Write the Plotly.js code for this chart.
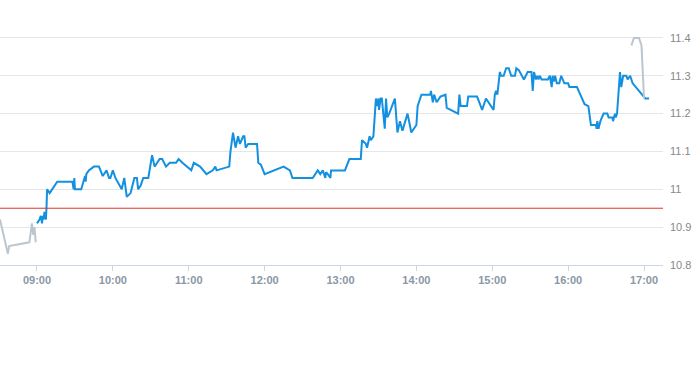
<!DOCTYPE html>
<html>
<head>
<meta charset="utf-8">
<script src="https://cdn.plot.ly/plotly-3.0.1.min.js"></script>
<style>html,body{margin:0;padding:0;background:#fff;}#chart{width:693px;height:365px;}</style>
</head>
<body>
<div id="chart"></div>
<script>
const DAY = '2024-03-01 ';
const preTimes = ['08:30:45','08:37','08:38','08:45','08:54','08:56','08:57','08:58','08:59'];
const prePrices = [10.92,10.83,10.85,10.855,10.86,10.91,10.88,10.90,10.86];

const mainTimes = ['09:00','09:02','09:03','09:04','09:04:30','09:05','09:06','09:07','09:07:30','09:08','09:10','09:16','09:28','09:29','09:29:30','09:30','09:35','09:37','09:38','09:38:30','09:39','09:41','09:45','09:49','09:52','09:55','09:57','09:58','10:00','10:02','10:07','10:09','10:11','10:14','10:17','10:19','10:20','10:22','10:24','10:28','10:31','10:33','10:37','10:39','10:42','10:45','10:50','10:52','10:55','11:02','11:04','11:09','11:14','11:19','11:21','11:22','11:32','11:33','11:35','11:37','11:39','11:40:30','11:43','11:44','11:45','11:47','11:54','11:55','11:57','12:00','12:15','12:20','12:22','12:38','12:42','12:44','12:46','12:48','12:48:30','12:50','12:52','12:52:30','13:03:30','13:07','13:16','13:17','13:20','13:21','13:23','13:24','13:26','13:27','13:28','13:29','13:30','13:30:30','13:31:40','13:32:40','13:34','13:35','13:36','13:37','13:38:30','13:43','13:45','13:47','13:49','13:53','13:56','14:00','14:01','14:04','14:11','14:11:30','14:13','14:14','14:16','14:19','14:23','14:24','14:33','14:34','14:35','14:40','14:41','14:48','14:52','14:55','15:01','15:02','15:03','15:04','15:06','15:07','15:09','15:11','15:13','15:15','15:18','15:19','15:21','15:25','15:28','15:31','15:32','15:33','15:34:30','15:35:30','15:36:30','15:37:30','15:39','15:40','15:44','15:45:30','15:47','15:47:40','15:48:40','15:49:40','15:51','15:53','15:54:30','15:57','16:00','16:01','16:07','16:09','16:13','16:16','16:18','16:22','16:22:30','16:23','16:24','16:25:30','16:28','16:31','16:32','16:35','16:35:30','16:37','16:37:40','16:38:40','16:40','16:41','16:42','16:43:30','16:46','16:47','16:49','16:51','17:01','17:04'];
const mainPrices = [10.91,10.92,10.93,10.91,10.93,10.92,10.94,10.92,10.95,11.00,10.99,11.02,11.02,11.00,11.03,11.00,11.00,11.02,11.035,11.02,11.04,11.05,11.06,11.06,11.035,11.05,11.03,11.03,11.05,11.03,11.00,11.03,10.98,10.99,11.03,11.03,11.00,11.01,11.03,11.03,11.09,11.06,11.08,11.08,11.06,11.07,11.07,11.08,11.07,11.05,11.07,11.06,11.04,11.05,11.06,11.05,11.06,11.10,11.15,11.11,11.14,11.12,11.14,11.14,11.11,11.12,11.12,11.07,11.065,11.04,11.06,11.05,11.03,11.03,11.05,11.04,11.05,11.03,11.045,11.04,11.03,11.05,11.05,11.08,11.08,11.13,11.12,11.11,11.14,11.13,11.14,11.19,11.24,11.22,11.24,11.21,11.24,11.24,11.18,11.16,11.24,11.19,11.20,11.24,11.15,11.18,11.155,11.20,11.15,11.17,11.22,11.25,11.25,11.26,11.23,11.25,11.23,11.245,11.25,11.215,11.20,11.25,11.22,11.22,11.245,11.245,11.21,11.24,11.21,11.25,11.26,11.25,11.31,11.30,11.30,11.32,11.32,11.30,11.30,11.32,11.315,11.29,11.31,11.31,11.26,11.31,11.29,11.30,11.29,11.30,11.29,11.29,11.29,11.30,11.27,11.30,11.285,11.30,11.28,11.28,11.30,11.28,11.28,11.27,11.27,11.255,11.225,11.22,11.17,11.17,11.16,11.18,11.16,11.18,11.20,11.20,11.19,11.19,11.18,11.20,11.19,11.20,11.27,11.31,11.27,11.30,11.30,11.29,11.30,11.28,11.24,11.24];

const postTimes = ['16:50','16:52','16:56','16:58','17:00'];
const postPrices = [11.38,11.40,11.40,11.38,11.24];

const prevClose = [10.95];
const xRange = ['08:30:45','17:15'];
const yTicks = [10.8,10.9,11,11.1,11.2,11.3,11.4];
const xTickTimes = ['09:00','10:00','11:00','12:00','13:00','14:00','15:00','16:00','17:00'];
const xTickLabels = ['09:00','10:00','11:00','12:00','13:00','14:00','15:00','16:00','17:00'];

const d = t => DAY + t;

const traces = [
  {x: preTimes.map(d), y: prePrices, type:'scatter', mode:'lines', line:{color:'#bcc6ce', width:2}, hoverinfo:'skip'},
  {x: mainTimes.map(d), y: mainPrices, type:'scatter', mode:'lines', line:{color:'#1390df', width:2}, hoverinfo:'skip'},
  {x: postTimes.map(d), y: postPrices, type:'scatter', mode:'lines', line:{color:'#bcc6ce', width:2}, hoverinfo:'skip'}
];

const layout = {
  width: 693, height: 365,
  margin: {l:0, r:30, t:19, b:100},
  paper_bgcolor:'#fff', plot_bgcolor:'#fff',
  showlegend:false,
  font:{family:'"Liberation Sans", Arial, sans-serif'},
  xaxis:{
    type:'date', range: xRange.map(d),
    tickvals: xTickTimes.map(d), ticktext: xTickLabels,
    showgrid:false, zeroline:false,
    showline:true, linecolor:'#ccd6eb', linewidth:1,
    ticks:'outside', ticklen:5, tickcolor:'#ccd6eb',
    tickfont:{size:11, color:'#8a97a5', family:'"Liberation Sans", Arial, sans-serif', weight:'bold'}
  },
  yaxis:{
    side:'right', range:[10.8, 11.45],
    tickvals: yTicks, ticktext: yTicks.map(v => String(v)),
    showgrid:true, gridcolor:'#e6e6e6', gridwidth:1,
    zeroline:false, showline:false, ticks:'',
    ticklabelstandoff: 6,
    tickfont:{size:11, color:'#888888', family:'"Liberation Sans", Arial, sans-serif'}
  },
  shapes:[{type:'line', xref:'paper', x0:0, x1:1, yref:'y', y0:prevClose[0], y1:prevClose[0], line:{color:'#d9342b', width:1}}]
};

Plotly.newPlot('chart', traces, layout, {staticPlot:true, displayModeBar:false});
</script>
</body>
</html>
